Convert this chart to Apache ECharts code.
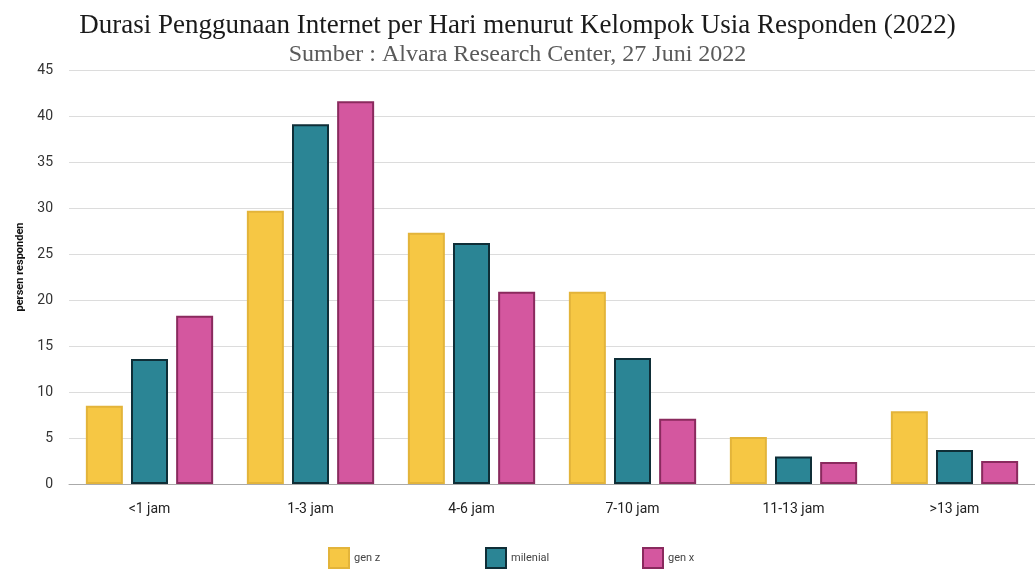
<!DOCTYPE html>
<html>
<head>
<meta charset="utf-8">
<script src="https://cdn.jsdelivr.net/npm/echarts@6/dist/echarts.min.js"></script>
<style>
  html, body { margin: 0; padding: 0; background: #fff; }
  #chart { width: 1035px; height: 569px; }
</style>
</head>
<body>
<div id="chart"></div>
<script>
// Duration categories (hours per day)
const categories = ['<1 jam', '1-3 jam', '4-6 jam', '7-10 jam', '11-13 jam', '>13 jam'];
// Share of respondents (%) per age group
const genZ = [8.5, 29.7, 27.3, 20.9, 5.1, 7.9];
const milenial = [13.6, 39.1, 26.2, 13.7, 3.0, 3.7];
const genX = [18.3, 41.6, 20.9, 7.1, 2.4, 2.5];
const seriesNames = ['gen z', 'milenial', 'gen x'];
const yTicks = { min: 0, max: 45, interval: 5 };

const fills = ['#F6C744', '#2B8595', '#D4579F'];
const borders = ['#E3B43A', '#0F2E37', '#8A2A5E'];
const values = [genZ, milenial, genX];
const legendLeft = [328, 485, 642];

const serif = 'Liberation Serif, serif';
const sans = 'Roboto, sans-serif';

const chart = echarts.init(document.getElementById('chart'));
chart.setOption({
  animation: false,
  title: {
    text: 'Durasi Penggunaan Internet per Hari menurut Kelompok Usia Responden (2022)',
    subtext: 'Sumber : Alvara Research Center, 27 Juni 2022',
    left: 'center',
    top: 12,
    padding: 0,
    itemGap: 4,
    textStyle: { fontFamily: serif, fontSize: 27, fontWeight: 'normal', color: '#1a1a1a' },
    subtextStyle: { fontFamily: serif, fontSize: 24, color: '#5a5a5a' }
  },
  // one legend block per series so the items sit at even, wide spacing
  legend: seriesNames.map((name, i) => ({
    data: [name],
    left: legendLeft[i],
    top: 547,
    padding: 0,
    icon: 'rect',
    itemWidth: 20,
    itemHeight: 20,
    textStyle: { fontFamily: sans, fontSize: 11, color: '#444' }
  })),
  grid: { left: 69, width: 969, top: 70, bottom: 85 },
  xAxis: {
    type: 'category',
    data: categories,
    axisLine: { lineStyle: { color: '#aaa', width: 1 } },
    axisTick: { alignWithLabel: true, length: 5, lineStyle: { color: '#bbb' } },
    axisLabel: { fontFamily: sans, fontSize: 14, color: '#222', margin: 18 }
  },
  yAxis: {
    type: 'value',
    min: yTicks.min,
    max: yTicks.max,
    interval: yTicks.interval,
    name: 'persen responden',
    nameLocation: 'middle',
    nameGap: 43,
    nameTextStyle: { fontFamily: sans, fontSize: 11, fontWeight: 'bold', color: '#111', padding: [0, 0, 0, 20] },
    axisLine: { show: false },
    axisTick: { show: false },
    axisLabel: { fontFamily: sans, fontSize: 14, color: '#333', margin: 16 },
    splitLine: { lineStyle: { color: '#dcdcdc', width: 1 } }
  },
  series: seriesNames.map((name, i) => ({
    name: name,
    type: 'bar',
    data: values[i],
    barWidth: 37,
    barGap: '22%',
    itemStyle: { color: fills[i], borderColor: borders[i], borderWidth: 2 }
  }))
});
</script>
</body>
</html>
